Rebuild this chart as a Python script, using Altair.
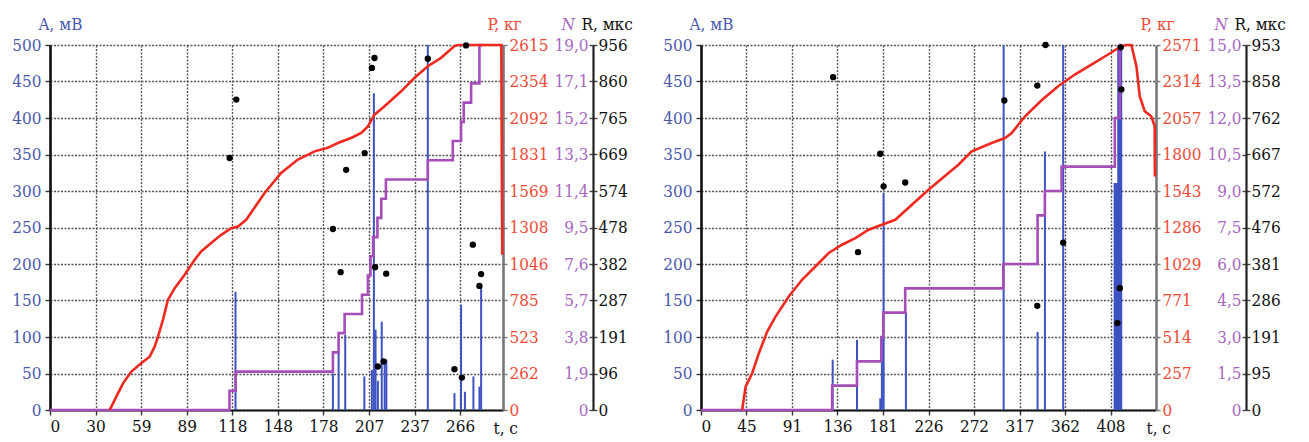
import json
import altair as alt
import pandas as pd

# ---------------- Left panel data ----------------
L_BAR_T = [120.4, 183.6, 187.3, 191.6, 204.0, 208.9, 210.2, 211.3, 212.8, 215.3, 217.2, 218.3,
           245.2, 262.5, 266.8, 269.3, 274.8, 278.7, 279.8]
L_BAR_A = [162, 50, 78, 103, 46, 55, 434, 110, 40, 121, 69, 69,
           500, 23, 144, 25, 46, 32, 169]

L_P_T = [38.7, 40.9, 44.1, 47.4, 52.8, 59.2, 64.7, 67.9, 70.1, 73.3, 76.5, 80.9, 87.4, 93.9, 98.1,
         104.6, 111.1, 117.6, 122.0, 127.3, 139.3, 150.0, 160.9, 171.7, 180.3, 186.8, 195.4, 202.0,
         206.3, 210.6, 217.1, 227.9, 236.6, 245.2, 253.8, 262.5, 264.7, 292.9, 293.5]
L_P_V = [0, 48, 119, 191, 275, 335, 382, 454, 526, 646, 789, 873, 969, 1076, 1136,
         1196, 1255, 1303, 1315, 1363, 1555, 1698, 1794, 1853, 1878, 1913, 1949, 1985,
         2032, 2116, 2176, 2283, 2380, 2463, 2523, 2607, 2615, 2615, 1112]

L_N_T = [0, 116.5, 120.5, 183.6, 187.3, 191.2, 202.5, 206.3, 208.0, 209.7, 212.5, 215.0, 218.0,
         245.2, 261.4, 266.8, 268.5, 273.3, 278.7, 281.0]
L_N_V = [0, 1, 2, 3, 4, 5, 6, 7, 8, 9, 10, 11, 12, 13, 14, 15, 16, 17, 19, 19]

L_R_T = [116.6, 120.9, 183.6, 188.6, 192.2, 204.2, 208.9, 210.6, 211.0, 212.8, 216.5, 218.2,
         245.2, 262.5, 267.3, 270.0, 274.4, 278.7, 279.8]
L_R_V = [660, 813, 474, 361, 629, 673, 896, 922, 374, 114, 127, 357,
         920, 107, 85, 955, 433, 325, 356]

L_X_MAX = 294
L_X_STEP = 29.58
L_X_LABELS = ["0", "30", "59", "89", "118", "148", "178", "207", "237", "266"]
L_P_MAX = 2615
L_P_LABELS = ["0", "262", "523", "785", "1046", "1308", "1569", "1831", "2092", "2354", "2615"]
L_N_MAX = 19
L_N_LABELS = ["0", "1,9", "3,8", "5,7", "7,6", "9,5", "11,4", "13,3", "15,2", "17,1", "19,0"]
L_R_MAX = 956
L_R_LABELS = ["0", "96", "191", "287", "382", "478", "574", "669", "765", "860", "956"]

# ---------------- Right panel data ----------------
R_BAR_T = [131.1, 155.3, 178.5, 180.1, 181.8, 204.0, 301.3, 335.1, 342.4, 360.6,
           411.8, 412.6, 413.4, 414.2, 415.4, 416.4, 417.4, 418.4]
R_BAR_A = [69, 96, 16, 101, 297, 135, 500, 107, 354, 500,
           311, 311, 305, 311, 500, 500, 500, 500]

R_P_T = [41.0, 44.4, 51.0, 57.6, 65.9, 74.2, 87.4, 100.6, 113.9, 127.2, 140.4, 153.7, 166.9,
         180.1, 193.4, 226.5, 246.4, 256.3, 269.5, 289.4, 302.7, 309.3, 322.6, 339.1, 355.6,
         372.2, 388.7, 405.3, 418.5, 423.5, 428.5, 433.5, 436.8, 441.8, 448.3, 451.7, 451.9]
R_P_V = [0, 165, 259, 400, 552, 658, 799, 917, 1011, 1106, 1164, 1211, 1270,
         1305, 1340, 1552, 1670, 1728, 1822, 1881, 1916, 1951, 2069, 2182, 2281,
         2363, 2433, 2504, 2563, 2571, 2571, 2422, 2210, 2104, 2069, 1999, 1645]

R_N_T = [0, 130.5, 155.3, 179.5, 181.5, 203.3, 301.0, 335.1, 342.4, 359.0, 412.0, 417.0, 419.0]
R_N_V = [0, 1, 2, 3, 4, 5, 6, 8, 9, 10, 12, 15, 15]

R_R_T = [131.5, 156.3, 178.5, 181.8, 203.3, 302.0, 334.8, 334.8, 343.0, 360.6, 414.6, 417.0, 417.9, 418.5]
R_R_V = [869, 412, 669, 584, 594, 808, 847, 272, 953, 437, 227, 318, 947, 837]

R_X_MAX = 453
R_X_STEP = 45.3
R_X_LABELS = ["0", "45", "91", "136", "181", "226", "272", "317", "362", "408"]
R_P_MAX = 2571
R_P_LABELS = ["0", "257", "514", "771", "1029", "1286", "1543", "1800", "2057", "2314", "2571"]
R_N_MAX = 15
R_N_LABELS = ["0", "1,5", "3,0", "4,5", "6,0", "7,5", "9,0", "10,5", "12,0", "13,5", "15,0"]
R_R_MAX = 953
R_R_LABELS = ["0", "95", "191", "286", "381", "476", "572", "667", "762", "858", "953"]

A_MAX = 500
A_LABELS = ["0", "50", "100", "150", "200", "250", "300", "350", "400", "450", "500"]

# ---------------- style ----------------
FONT = "DejaVu Serif Condensed"
FS = 17
BLUE_LABEL = "#4a58ac"
BAR_BLUE = "#3e52c2"
RED = "#ee2a20"
RED_LABEL = "#f04a36"
PURPLE = "#a54db8"
PURPLE_LABEL = "#a767c2"
H = 365
GAP = 90


def lbl_expr(labels, step):
    return f"{json.dumps(labels)}[round(datum.value/{step})]"


def ticks(maxv, n=10):
    return [maxv * k / n for k in range(n + 1)]


def panel(bar_t, bar_a, p_t, p_v, n_t, n_v, r_t, r_v,
          x_max, x_step, x_labels, p_max, p_labels, n_max, n_labels, r_max, r_labels, W):
    xvals = [x_step * k for k in range(len(x_labels))]
    X = alt.X("t:Q", scale=alt.Scale(domain=[0, x_max], nice=False, zero=False),
              axis=alt.Axis(values=xvals, labelExpr=lbl_expr(x_labels, x_step),
                            grid=True, gridColor="#555", gridDash=[2, 1.5], gridWidth=1.4,
                            domainColor="#111", domainWidth=2.2, tickColor="#333", tickSize=5,
                            tickWidth=1.4, labelPadding=3, labelColor="#111",
                            labelOverlap=False,
                            title="t, c", titleFontWeight="normal", titleColor="#111",
                            titleX=W - 10, titleY=10, titleAlign="left", titleBaseline="top"))

    bars_df = pd.DataFrame({"t": bar_t, "A": bar_a})
    bars = alt.Chart(bars_df).mark_rule(color=BAR_BLUE, strokeWidth=2).encode(
        x=X,
        y=alt.Y("A:Q", scale=alt.Scale(domain=[0, A_MAX], nice=False),
                axis=alt.Axis(orient="left", values=ticks(A_MAX), labelExpr=lbl_expr(A_LABELS, A_MAX / 10),
                              grid=True, gridColor="#555", gridDash=[2, 1.5], gridWidth=1.4,
                              domainColor="#111", domainWidth=2.6, tickColor="#333", tickSize=5,
                              tickWidth=1.4, labelPadding=4, labelColor=BLUE_LABEL,
                              labelOverlap=False,
                              title="A, мВ", titleFontWeight="normal",
                              titleColor=BLUE_LABEL, titleAngle=0, titleX=-12, titleY=-16,
                              titleAlign="left", titleBaseline="alphabetic")),
        y2=alt.datum(0),
    )

    p_df = pd.DataFrame({"t": p_t, "P": p_v})
    pline = alt.Chart(p_df).mark_line(color=RED, strokeWidth=2.6).encode(
        x=X,
        y=alt.Y("P:Q", scale=alt.Scale(domain=[0, p_max], nice=False),
                axis=alt.Axis(orient="right", offset=0, values=ticks(p_max),
                              labelExpr=lbl_expr(p_labels, p_max / 10), grid=False,
                              domainColor="#777", domainWidth=2.6, tickColor="#777", tickSize=4,
                              tickWidth=1.4, labelPadding=2, labelColor=RED_LABEL,
                              labelOverlap=False,
                              title="P, кг", titleFontWeight="normal",
                              titleColor=RED_LABEL, titleAngle=0, titleX=-16, titleY=-16,
                              titleAlign="left", titleBaseline="alphabetic")),
    )

    n_df = pd.DataFrame({"t": n_t, "N": n_v})
    nline = alt.Chart(n_df).mark_line(color=PURPLE, strokeWidth=2.6, interpolate="step-after").encode(
        x=X,
        y=alt.Y("N:Q", scale=alt.Scale(domain=[0, n_max], nice=False),
                axis=alt.Axis(orient="left", offset=-(W + GAP), values=ticks(n_max),
                              labelExpr=lbl_expr(n_labels, n_max / 10), grid=False,
                              domain=False, tickColor="#444", tickSize=4,
                              tickWidth=1.4, labelPadding=1, labelColor=PURPLE_LABEL,
                              labelOverlap=False,
                              title="N", titleFontWeight="normal", titleFontStyle="italic",
                              titleColor=PURPLE_LABEL, titleAngle=0, titleX=-32, titleY=-16,
                              titleAlign="left", titleBaseline="alphabetic")),
    )

    r_df = pd.DataFrame({"t": r_t, "R": r_v})
    dots = alt.Chart(r_df).mark_circle(color="#000", size=40, opacity=1).encode(
        x=X,
        y=alt.Y("R:Q", scale=alt.Scale(domain=[0, r_max], nice=False),
                axis=alt.Axis(orient="right", offset=GAP, values=ticks(r_max),
                              labelExpr=lbl_expr(r_labels, r_max / 10), grid=False,
                              domainColor="#222", domainWidth=2.2, tickColor="#444", tickSize=4,
                              tickWidth=1.4, labelPadding=1, labelColor="#111",
                              labelOverlap=False,
                              title="R, мкс", titleFontWeight="normal",
                              titleColor="#111", titleAngle=0, titleX=-12, titleY=-16,
                              titleAlign="left", titleBaseline="alphabetic")),
    )

    return alt.layer(bars, nline, pline, dots).resolve_scale(y="independent").properties(width=W, height=H)


left = panel(L_BAR_T, L_BAR_A, L_P_T, L_P_V, L_N_T, L_N_V, L_R_T, L_R_V,
             L_X_MAX, L_X_STEP, L_X_LABELS, L_P_MAX, L_P_LABELS, L_N_MAX, L_N_LABELS,
             L_R_MAX, L_R_LABELS, 453)
right = panel(R_BAR_T, R_BAR_A, R_P_T, R_P_V, R_N_T, R_N_V, R_R_T, R_R_V,
              R_X_MAX, R_X_STEP, R_X_LABELS, R_P_MAX, R_P_LABELS, R_N_MAX, R_N_LABELS,
              R_R_MAX, R_R_LABELS, 455)

chart = alt.hconcat(left, right, spacing=29).properties(
    padding={"left": 3, "top": 7, "right": 5, "bottom": 0},
    background="white",
).configure(font=FONT).configure_view(stroke=None).configure_axis(
    labelFont=FONT, labelFontSize=FS, titleFont=FONT, titleFontSize=FS
)

chart.save("out.html", embed_options={"renderer": "svg", "actions": False})
